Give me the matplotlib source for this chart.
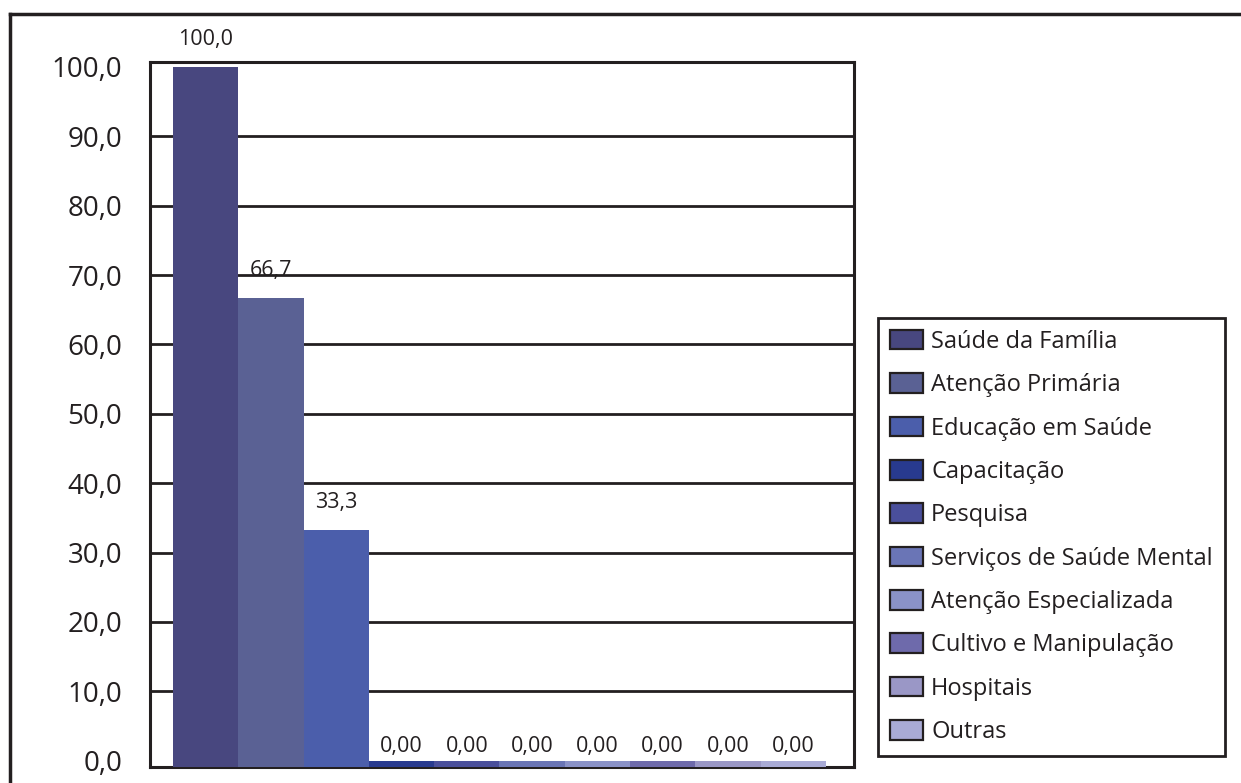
import matplotlib
matplotlib.use("Agg")
import matplotlib.pyplot as plt
from matplotlib.lines import Line2D
from matplotlib.patches import Patch

categories = [
    "Saúde da Família", "Atenção Primária", "Educação em Saúde", "Capacitação",
    "Pesquisa", "Serviços de Saúde Mental", "Atenção Especializada",
    "Cultivo e Manipulação", "Hospitais", "Outras",
]
values = [100.0, 66.7, 33.3, 0.0, 0.0, 0.0, 0.0, 0.0, 0.0, 0.0]
value_labels = ["100,0", "66,7", "33,3", "0,00", "0,00", "0,00", "0,00", "0,00", "0,00", "0,00"]
colors = ["#48477f", "#5a6194", "#4b5eab", "#283a8f", "#4a4f9b",
          "#6a75b6", "#8a92c8", "#6e6aab", "#9a97c6", "#a9abd6"]
yticks = [0, 10, 20, 30, 40, 50, 60, 70, 80, 90, 100]
ytick_labels = ["0,0", "10,0", "20,0", "30,0", "40,0", "50,0", "60,0", "70,0", "80,0", "90,0", "100,0"]

FONT = "Open Sans"
INK = "#231f20"
W, H = 1241, 783

fig = plt.figure(figsize=(W / 100, H / 100), dpi=100)
fig.patch.set_facecolor("white")

# plot area in pixel terms
left, right, top, bottom = 150, 854, 62, 767
ax = fig.add_axes([left / W, 1 - bottom / H, (right - left) / W, (bottom - top) / H])

floor = -0.9
ax.set_ylim(floor, 100.7)
ax.set_xlim(-0.852, 9.93)

x = list(range(len(values)))
ax.bar(x, [v - floor for v in values], bottom=floor, width=1.0,
       color=colors, edgecolor="none", zorder=3)

for xi, v, lab in zip(x, values, value_labels):
    off = 19.5 if v > 0 else 10
    ax.annotate(lab, (xi, v), xytext=(0, off), textcoords="offset points",
                ha="center", va="center", fontsize=15.5, family=FONT, color=INK)

for t in yticks[1:-1]:
    ax.axhline(t, color=INK, lw=2, zorder=1)

ax.set_yticks(yticks)
ax.set_yticklabels(ytick_labels, family=FONT, fontsize=20, color=INK)
ax.tick_params(axis="y", length=0, pad=20)
ax.set_xticks([])
for s in ax.spines.values():
    s.set_color(INK)
    s.set_linewidth(2.2)

# outer frame (open on the right and bottom)
fig.add_artist(Line2D([10 / W, 10 / W], [0, 1 - 14 / H], color=INK, lw=2.5,
                      transform=fig.transFigure))
fig.add_artist(Line2D([10 / W, 1], [1 - 14 / H, 1 - 14 / H], color=INK, lw=2.5,
                      transform=fig.transFigure))

handles = [Patch(facecolor=c, edgecolor=INK, linewidth=1.6) for c in colors]
leg = fig.legend(handles, categories, loc="upper left",
                 bbox_to_anchor=(878 / W, 1 - 318 / H),
                 prop={"family": FONT, "size": 17}, frameon=True, fancybox=False,
                 framealpha=1.0,
                 handlelength=1.4, handleheight=0.9, handletextpad=0.35,
                 labelspacing=0.82, borderpad=0.5, borderaxespad=0)
leg.get_frame().set_edgecolor(INK)
leg.get_frame().set_linewidth(2)
for t in leg.get_texts():
    t.set_color(INK)

fig.savefig("out.png", dpi=100, facecolor="white")
